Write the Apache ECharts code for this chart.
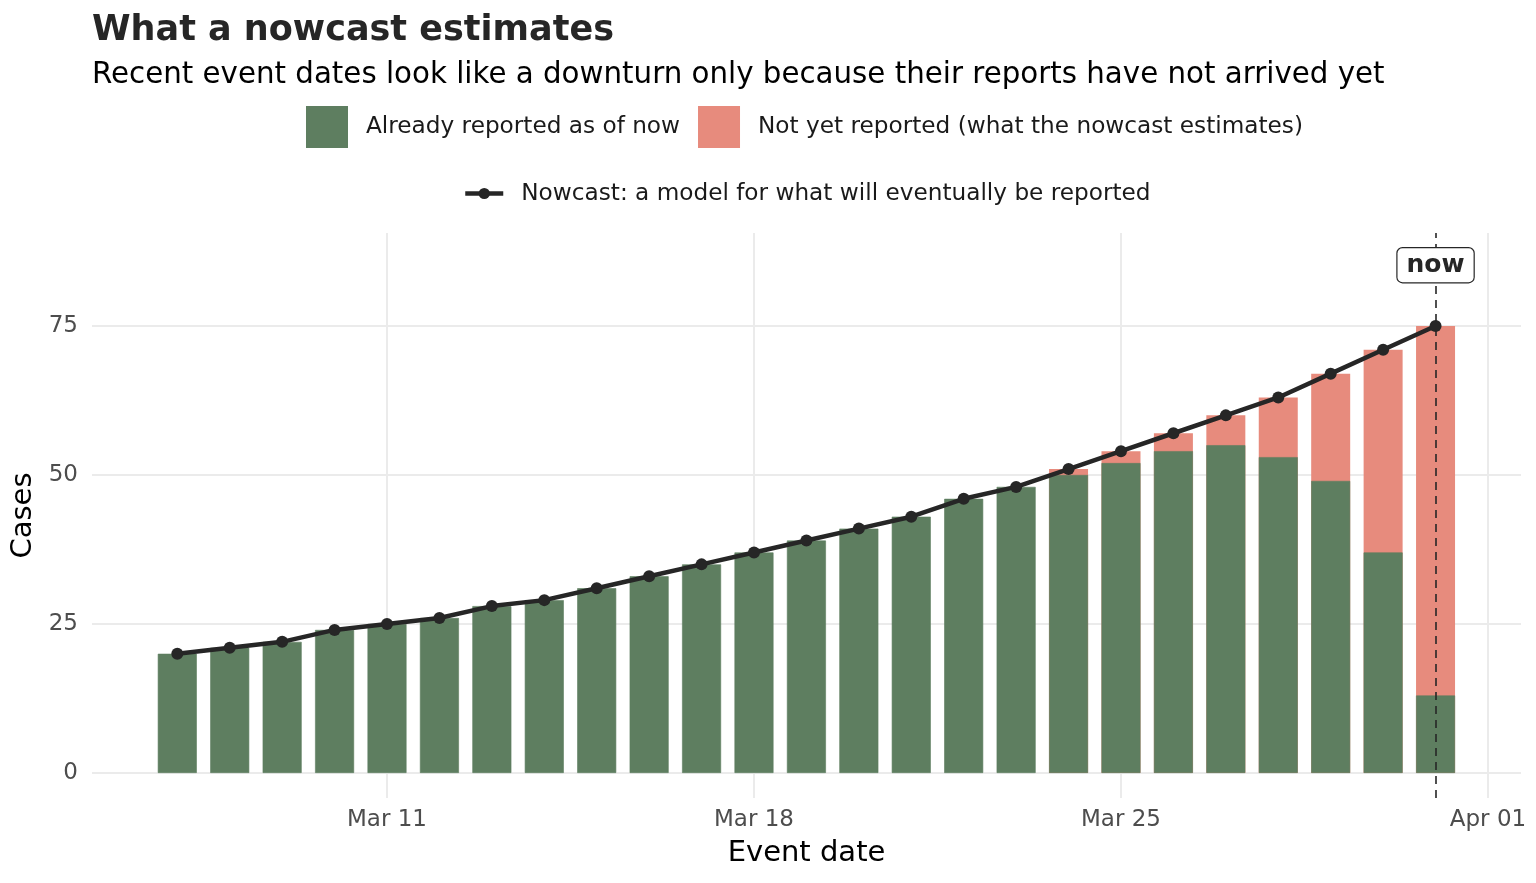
<!DOCTYPE html>
<html><head><meta charset="utf-8">
<script src="https://cdn.jsdelivr.net/npm/echarts@6/dist/echarts.min.js"></script>
<style>html,body{margin:0;padding:0;background:#fff}#c{width:1536px;height:883px}</style>
</head><body><div id="c"></div><script>
const eventDates = ['2024-03-07','2024-03-08','2024-03-09','2024-03-10','2024-03-11','2024-03-12','2024-03-13',
  '2024-03-14','2024-03-15','2024-03-16','2024-03-17','2024-03-18','2024-03-19','2024-03-20','2024-03-21',
  '2024-03-22','2024-03-23','2024-03-24','2024-03-25','2024-03-26','2024-03-27','2024-03-28','2024-03-29',
  '2024-03-30','2024-03-31'];
const reported = [20,21,22,24,25,26,28,29,31,33,35,37,39,41,43,46,48,50,52,54,55,53,49,37,13];
const notYetReported = [0,0,0,0,0,0,0,0,0,0,0,0,0,0,0,0,0,1,2,3,5,10,18,34,62];
const nowcast = [20,21,22,24,25,26,28,29,31,33,35,37,39,41,43,46,48,51,54,57,60,63,67,71,75];
const xTickDates = ['2024-03-11','2024-03-18','2024-03-25','2024-04-01'];
const xTickLabels = ['Mar 11','Mar 18','Mar 25','Apr 01'];
const yTicks = [0,25,50,75];
const nowDate = '2024-03-31';
const nowLabelValue = 85.2;

const origin = Date.parse('2024-03-01');
const toDay = d => (Date.parse(d) - origin) / 86400000 + 1;
const days = eventDates.map(toDay);
const xTickDays = xTickDates.map(toDay);
const tickLabelMap = {};
xTickDays.forEach((d, i) => { tickLabelMap[d] = xTickLabels[i]; });

const FONT = 'DejaVu Sans';
const GREEN = '#5e7e60';
const SALMON = '#e78b7d';
const DARK = '#262626';
const GRID = '#ebebeb';

const chart = echarts.init(document.getElementById('c'));
chart.setOption({
  animation: false,
  textStyle: {fontFamily: FONT},
  title: [
    {text: 'What a nowcast estimates', left: 87, top: 8, padding: [5, 5, 5, 5],
     textStyle: {fontFamily: FONT, fontSize: 35, fontWeight: 'bold', color: DARK}},
    {text: 'Recent event dates look like a downturn only because their reports have not arrived yet', left: 87, top: 56,
     textStyle: {fontFamily: FONT, fontSize: 29.3, fontWeight: 'normal', color: '#000'}}
  ],
  legend: [
    {data: ['Already reported as of now', 'Not yet reported (what the nowcast estimates)'],
     left: 306, top: 106, padding: 0, orient: 'horizontal', icon: 'rect', itemWidth: 42, itemHeight: 42, itemGap: 18,
     itemStyle: {borderWidth: 0},
     textStyle: {fontFamily: FONT, fontSize: 23.2, color: '#1a1a1a', padding: [3, 0, 0, 13]}},
    {data: ['Nowcast: a model for what will eventually be reported'],
     left: 463, top: 182, padding: 0, itemWidth: 38, itemHeight: 14,
     lineStyle: {width: 4.5},
     textStyle: {fontFamily: FONT, fontSize: 23.2, color: '#1a1a1a', padding: [0, 0, 0, 13]}}
  ],
  grid: {left: 92, right: 15, top: 233, bottom: 85, containLabel: false},
  xAxis: {
    type: 'value', min: 5.373, max: 32.63,
    name: 'Event date', nameLocation: 'middle', nameGap: 41,
    nameTextStyle: {fontFamily: FONT, fontSize: 29, color: '#000'},
    axisLine: {show: false},
    axisTick: {show: false, customValues: xTickDays},
    axisLabel: {customValues: xTickDays, formatter: v => tickLabelMap[v] || '', fontFamily: FONT,
      fontSize: 23, color: '#4d4d4d', margin: 11},
    splitLine: {show: true, lineStyle: {color: GRID, width: 2}}
  },
  yAxis: {
    type: 'value', min: -4.2, max: 90.6,
    name: 'Cases', nameLocation: 'middle', nameGap: 52, nameRotate: 90,
    nameTextStyle: {fontFamily: FONT, fontSize: 29, color: '#000'},
    axisLine: {show: false},
    axisTick: {show: false, customValues: yTicks},
    axisLabel: {customValues: yTicks, fontFamily: FONT, fontSize: 23, color: '#4d4d4d', margin: 14},
    splitLine: {show: true, lineStyle: {color: GRID, width: 2}}
  },
  series: [
    {name: 'Not yet reported (what the nowcast estimates)', type: 'bar', barWidth: 39, barGap: '-100%',
     itemStyle: {color: SALMON},
     data: days.map((d, i) => [d, notYetReported[i] > 0 ? reported[i] + notYetReported[i] : null])},
    {name: 'Already reported as of now', type: 'bar', barWidth: 39, barGap: '-100%',
     itemStyle: {color: GREEN, borderColor: GREEN, borderWidth: 0.6},
     data: days.map((d, i) => [d, reported[i]])},
    {name: 'Nowcast: a model for what will eventually be reported', type: 'line',
     symbol: 'circle', symbolSize: 12, z: 4,
     lineStyle: {color: DARK, width: 4.5}, itemStyle: {color: DARK},
     data: days.map((d, i) => [d, nowcast[i]]),
     markLine: {silent: true, symbol: ['none', 'none'], z: 3,
       lineStyle: {color: DARK, type: [8, 6], width: 1.6},
       label: {show: false},
       data: [{xAxis: toDay(nowDate)}]},
     markPoint: {silent: true, symbol: 'rect', symbolSize: 0.01, z: 6,
       label: {show: true, formatter: 'now', position: 'inside', fontFamily: FONT, fontSize: 25, fontWeight: 'bold',
         lineHeight: 26, color: DARK, backgroundColor: '#fff', borderColor: DARK, borderWidth: 1.2, borderRadius: 5,
         padding: [4, 9, 4, 9]},
       data: [{coord: [toDay(nowDate), nowLabelValue]}]}
    }
  ]
});
</script></body></html>
